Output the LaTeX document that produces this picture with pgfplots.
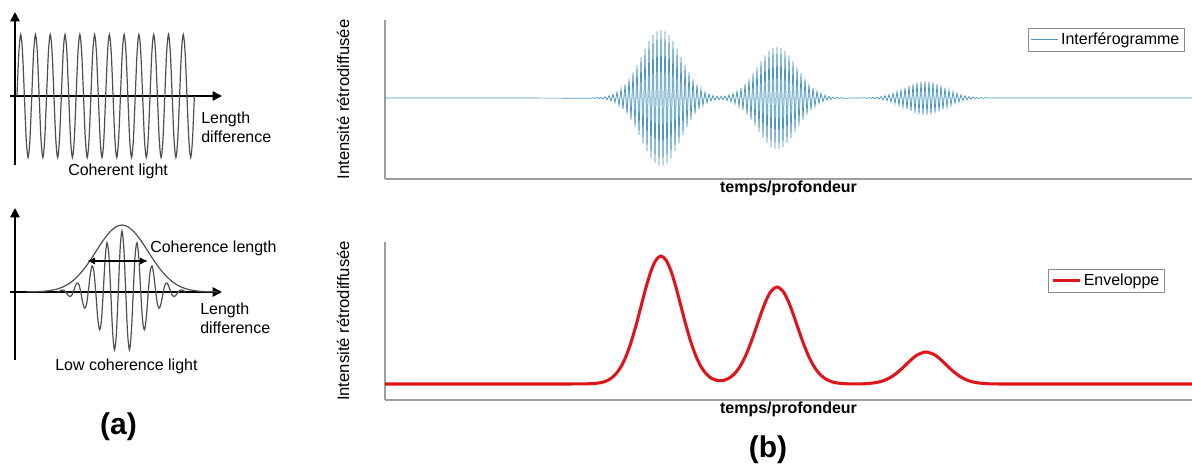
\documentclass[border=0pt]{standalone}
\usepackage{fontspec}
\setmainfont{Liberation Sans}
\usepackage{pgfplots}
\pgfplotsset{compat=1.18}
\usetikzlibrary{arrows.meta}

\definecolor{intcol}{RGB}{78,152,192}
\definecolor{envred}{RGB}{222,22,28}
\definecolor{sketch}{RGB}{80,80,80}
\newcommand\lbl{\fontsize{12}{14}\selectfont}

% 1 px of the reference = 0.75pt
\pgfplotsset{
  sketchaxis/.style={
    scale only axis, anchor=south west, width=159pt,
    xmin=-5, xmax=207, enlargelimits=false, clip=false,
    axis lines=middle, ticks=none,
    axis line style={line width=1.2pt, -{Triangle[length=7pt,width=7pt]}},
  },
  signalaxis/.style={
    scale only axis, anchor=south west, width=605.25pt,
    xmin=0, xmax=807, enlargelimits=false,
    axis x line=bottom, axis y line=left, ticks=none,
    axis line style={-, draw=black!38, line width=0.9pt},
    legend style={anchor=north east, draw=black!45, fill=white, font=\lbl,
      inner xsep=2pt, inner ysep=1.5pt, legend cell align=left},
    legend image code/.code={\draw[#1] (0pt,0pt) -- (20pt,0pt);},
  },
}

\begin{document}
\begin{tikzpicture}

% ---------- (a) coherent light ----------
\begin{axis}[sketchaxis, at={(7.5pt,-123.75pt)}, height=114.75pt, ymin=-69, ymax=84]
\addplot[sketch, line width=0.9pt, smooth]
  table[row sep=\\, x expr=2+1.8475*\thisrow{k}, y expr=61.5*\thisrow{s}] {
k s\\
0 0\\1 .707\\2 1\\3 .707\\4 0\\5 -.707\\6 -1\\7 -.707\\
8 0\\9 .707\\10 1\\11 .707\\12 0\\13 -.707\\14 -1\\15 -.707\\
16 0\\17 .707\\18 1\\19 .707\\20 0\\21 -.707\\22 -1\\23 -.707\\
24 0\\25 .707\\26 1\\27 .707\\28 0\\29 -.707\\30 -1\\31 -.707\\
32 0\\33 .707\\34 1\\35 .707\\36 0\\37 -.707\\38 -1\\39 -.707\\
40 0\\41 .707\\42 1\\43 .707\\44 0\\45 -.707\\46 -1\\47 -.707\\
48 0\\49 .707\\50 1\\51 .707\\52 0\\53 -.707\\54 -1\\55 -.707\\
56 0\\57 .707\\58 1\\59 .707\\60 0\\61 -.707\\62 -1\\63 -.707\\
64 0\\65 .707\\66 1\\67 .707\\68 0\\69 -.707\\70 -1\\71 -.707\\
72 0\\73 .707\\74 1\\75 .707\\76 0\\77 -.707\\78 -1\\79 -.707\\
80 0\\81 .707\\82 1\\83 .707\\84 0\\85 -.707\\86 -1\\87 -.707\\
88 0\\89 .707\\90 1\\91 .707\\92 0\\93 -.707\\94 -1\\95 -.707\\
96 0\\
};
\end{axis}

% ---------- (a) low coherence light ----------
\begin{axis}[sketchaxis, at={(7.5pt,-270pt)}, height=114pt, ymin=-68, ymax=84]
\addplot[sketch, line width=0.9pt, smooth]
  table[row sep=\\, x expr=107+15*\thisrow{u}, y=y] {
u y\\
-4.25 0\\-4.125 1.2\\-4 2.0\\-3.875 1.8\\-3.75 0\\-3.625 -2.6\\-3.5 -4.5\\-3.375 -3.8\\
-3.25 0\\-3.125 5.4\\-3 9.0\\-2.875 7.4\\-2.75 0\\-2.625 -10.0\\-2.5 -16.1\\-2.375 -13.0\\
-2.25 0\\-2.125 16.5\\-2 26.1\\-1.875 20.4\\-1.75 0\\-1.625 -24.6\\-1.5 -37.8\\-1.375 -28.9\\
-1.25 0\\-1.125 33.0\\-1 49.3\\-0.875 36.7\\-0.75 0\\-0.625 -39.7\\-0.5 -57.8\\-0.375 -41.9\\
-0.25 0\\-0.125 43.0\\0 61.0\\0.125 43.0\\0.25 0\\0.375 -41.9\\0.5 -57.8\\0.625 -39.7\\
0.75 0\\0.875 36.7\\1 49.3\\1.125 33.0\\1.25 0\\1.375 -28.9\\1.5 -37.8\\1.625 -24.6\\
1.75 0\\1.875 20.4\\2 26.1\\2.125 16.5\\2.25 0\\2.375 -13.0\\2.5 -16.1\\2.625 -10.0\\
2.75 0\\2.875 7.4\\3 9.0\\3.125 5.4\\3.25 0\\3.375 -3.8\\3.5 -4.5\\3.625 -2.6\\
3.75 0\\3.875 1.8\\4 2.0\\4.125 1.2\\4.25 0\\
};
\addplot[sketch, line width=0.9pt, smooth]
  table[row sep=\\, x expr=107+\thisrow{d}, y=y] {
d y\\
-96 0.1\\-84 0.36\\-78 0.74\\-72 1.45\\-66 2.67\\-60 4.67\\-54 7.75\\-48 12.2\\
-42 18.2\\-36 25.7\\-30 34.4\\-24 43.8\\-18 52.7\\-12 60.2\\-6 65.2\\0 67\\
6 65.2\\12 60.2\\18 52.7\\24 43.8\\30 34.4\\36 25.7\\42 18.2\\48 12.2\\
54 7.75\\60 4.67\\66 2.67\\72 1.45\\78 0.74\\84 0.36\\96 0.1\\
};
\draw[line width=1.6pt, {Latex[length=6pt,width=5.5pt]}-{Latex[length=6pt,width=5.5pt]}]
  (axis cs:72,31) -- (axis cs:133,31);
\end{axis}

% ---------- (b) interferogram ----------
\begin{axis}[signalaxis, name=intf, at={(288.75pt,-134.25pt)}, height=119.25pt,
  ymin=-81, ymax=78,
  legend style={at={(axis description cs:0.9913,0.9497)}}]
\addplot[draw=intcol, fill=intcol!28, line width=0.55pt] coordinates {
(0,0) (206,-0.15) (208,0.21) (210,-0.29) (212,0.41) (214,-0.56) (216,0.75)
(218,-1.0) (220,1.3) (222,-1.8) (224,2.3) (226,-3.0) (228,3.8) (230,-4.8)
(232,6.0) (234,-7.5) (236,9.2) (238,-11.2) (240,13.5) (242,-16.0) (244,18.9)
(246,-22.1) (248,25.5) (250,-29.2) (252,33.1) (254,-37.1) (256,41.2) (258,-45.4)
(260,49.4) (262,-53.2) (264,56.8) (266,-60.0) (268,62.8) (270,-65.0) (272,66.6)
(274,-67.7) (276,68.0) (278,-67.7) (280,66.6) (282,-65.0) (284,62.8) (286,-60.0)
(288,56.8) (290,-53.2) (292,49.4) (294,-45.4) (296,41.2) (298,-37.1) (300,33.1)
(302,-29.2) (304,25.5) (306,-22.1) (308,18.9) (310,-16.0) (312,13.5) (314,-11.2)
(316,9.2) (318,-7.5) (320,6.0) (322,-4.9) (324,4.0) (326,-3.2) (328,2.6)
(330,-2.2) (332,1.9) (334,-1.8) (336,1.75) (338,-1.9) (340,2.1) (342,-2.5)
(344,3.1) (346,-3.8) (348,4.6) (350,-5.7) (352,6.9) (354,-8.4) (356,10.1)
(358,-12.0) (360,14.2) (362,-16.6) (364,19.1) (366,-21.9) (368,24.8) (370,-27.8)
(372,30.9) (374,-34.0) (376,37.0) (378,-39.9) (380,42.6) (382,-45.0) (384,47.1)
(386,-48.8) (388,50.0) (390,-50.7) (392,51.0) (394,-50.7) (396,50.0) (398,-48.8)
(400,47.1) (402,-45.0) (404,42.6) (406,-39.9) (408,37.0) (410,-34.0) (412,30.9)
(414,-27.8) (416,24.8) (418,-21.9) (420,19.1) (422,-16.6) (424,14.2) (426,-12.0)
(428,10.1) (430,-8.4) (432,6.9) (434,-5.6) (436,4.5) (438,-3.6) (440,2.9)
(442,-2.2) (444,1.7) (446,-1.3) (448,1.0) (450,-0.76) (452,0.57) (454,-0.42)
(456,0.31) (458,-0.22) (470,0)
(480,0.19) (482,-0.25) (484,0.34) (486,-0.44) (488,0.58) (490,-0.75) (492,0.95)
(494,-1.2) (496,1.5) (498,-1.9) (500,2.3) (502,-2.8) (504,3.4) (506,-4.0)
(508,4.7) (510,-5.5) (512,6.4) (514,-7.3) (516,8.3) (518,-9.3) (520,10.3)
(522,-11.3) (524,12.3) (526,-13.3) (528,14.2) (530,-15.0) (532,15.7) (534,-16.3)
(536,16.7) (538,-16.9) (540,17.0) (542,-16.9) (544,16.7) (546,-16.3) (548,15.7)
(550,-15.0) (552,14.2) (554,-13.3) (556,12.3) (558,-11.3) (560,10.3) (562,-9.3)
(564,8.3) (566,-7.3) (568,6.4) (570,-5.5) (572,4.7) (574,-4.0) (576,3.4)
(578,-2.8) (580,2.3) (582,-1.9) (584,1.5) (586,-1.2) (588,0.95) (590,-0.75)
(592,0.58) (594,-0.44) (596,0.34) (598,-0.25) (600,0.19) (610,0) (807,0)
};
\addlegendentry{Interférogramme}
\end{axis}

% ---------- (b) envelope ----------
\begin{axis}[signalaxis, name=env, at={(288.75pt,-300pt)}, height=118.5pt,
  ymin=-1, ymax=157,
  legend style={at={(axis description cs:0.9665,0.829)}}]
\addplot[envred, line width=2.3pt, smooth] coordinates {
(0,15) (150,15) (190,15.05) (206,15.3) (211,15.7) (216,16.4) (221,17.9) (226,20.6)
(231,25.2) (236,32.3) (241,42.7) (246,56.6) (251,73.6) (256,92.6) (261,111.6)
(266,128.0) (271,139.0) (276,143.0) (281,139.0) (286,128.0) (291,111.6) (296,92.6)
(301,73.6) (306,56.6) (311,42.7) (316,32.4) (321,25.4) (326,21.0) (331,18.9)
(336,18.3) (341,19.4) (346,22.2) (351,27.0) (356,34.2) (361,44.2) (366,56.7)
(371,70.9) (376,85.4) (381,98.4) (386,107.7) (392,112.0) (398,107.7) (403,98.4)
(408,85.4) (413,70.9) (418,56.7) (423,44.2) (428,34.2) (433,26.9) (438,21.9)
(443,18.8) (448,16.9) (453,15.9) (458,15.4) (463,15.2) (468,15.1) (473,15.1)
(478,15.2) (483,15.5) (488,16.0) (493,16.8) (498,18.2) (503,20.3) (508,23.2)
(513,27.0) (518,31.5) (523,36.3) (528,40.9) (533,44.5) (541,47.0) (549,44.5)
(554,40.9) (559,36.3) (564,31.5) (569,27.0) (574,23.2) (579,20.3) (584,18.2)
(589,16.8) (594,16.0) (599,15.5) (604,15.2) (609,15.1) (620,15.0) (660,15) (807,15)
};
\addlegendentry{Enveloppe}
\end{axis}

% axis titles of (b)
\node[rotate=90, font=\fontsize{12.5}{14}\selectfont] at ([xshift=-31.5pt]intf.west) {Intensité rétrodiffusée};
\node[anchor=base, font=\lbl\bfseries] at ([yshift=-10pt]intf.south) {temps/profondeur};
\node[rotate=90, font=\fontsize{12.5}{14}\selectfont] at ([xshift=-31.5pt]env.west) {Intensité rétrodiffusée};
\node[anchor=base, font=\lbl\bfseries] at ([yshift=-10pt]env.south) {temps/profondeur};

% texts of (a) and panel letters
\begin{scope}[x=0.75pt, y=-0.75pt, every node/.style={inner sep=0pt, font=\lbl}]
\node[anchor=base west] at (201,123) {Length};
\node[anchor=base west] at (201,142) {difference};
\node[anchor=base west] at (68,175) {Coherent light};
\node[anchor=base west] at (150,252) {Coherence length};
\node[anchor=base west] at (200,314) {Length};
\node[anchor=base west] at (200,333) {difference};
\node[anchor=base west] at (55,370) {Low coherence light};
\node[anchor=base, font=\fontsize{22.5}{26}\selectfont\bfseries] at (118.5,434) {(a)};
\node[anchor=base, font=\fontsize{22.5}{26}\selectfont\bfseries] at (768,457) {(b)};
\end{scope}

\pgfresetboundingbox
\path[use as bounding box] (0pt,0pt) rectangle (894pt,-348pt);
\end{tikzpicture}
\end{document}
